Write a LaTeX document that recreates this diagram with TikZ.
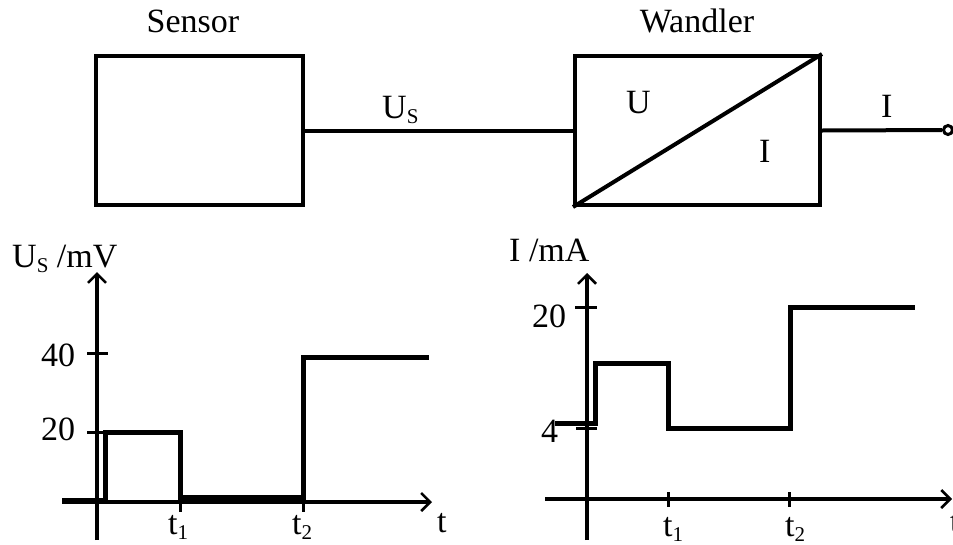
\documentclass[tikz,border=0pt]{standalone}
\usepackage{fontspec}
\setmainfont{Liberation Serif}
\usetikzlibrary{arrows.meta}
% lowered, smaller index letter (U_S, t_1, t_2)
\newcommand\lowsub[1]{\raisebox{-0.17em}{\fontsize{21}{21}\selectfont #1}}

\begin{document}
\begin{tikzpicture}[x=1pt,y=-1pt,
  lbl/.style={inner sep=0pt, anchor=base west, font=\fontsize{34}{36}\selectfont},
  block/.style={draw, line width=4pt, minimum width=#1, minimum height=149pt, inner sep=0pt},
  wire/.style={line width=4pt},
  axis/.style={line width=3.5pt, -{Straight Barb[length=9pt,width=18pt,line width=2.5pt]}},
  tick/.style={line width=3pt},
  sig/.style={line width=5pt, line join=miter}]
\useasboundingbox (0,0) rectangle (953,544);

% ---------- block diagram ----------
\node[block=207pt] (sensor)  at (199.5,130.5) {};
\node[block=245pt] (wandler) at (697.5,130.5) {};
\node[draw, circle, line width=3pt, minimum size=9pt, inner sep=0pt, fill=white] (term) at (948,130) {};

\draw[wire] (sensor.east) -- (wandler.west);
\draw[wire] (wandler.south west) -- (wandler.north east);
\draw[wire] (wandler.east) -- (term);

\node[lbl, anchor=base] (tsensor)  at (193,32) {Sensor};
\node[lbl, anchor=base] (twandler) at (697,32) {Wandler};
\node[lbl] (tus)   at (382,118) {U\lowsub{S}};
\node[lbl] (tu)    at (626,113) {U};
\node[lbl] (ti)    at (759,162) {I};
\node[lbl] (tiout) at (881,117) {I};

% ---------- sensor voltage over time ----------
\draw[axis] (97,540) -- (97,272);
\draw[axis] (62,502) -- (432,502);
\draw[tick] (87,353) -- (108,353);
\draw[tick] (87,432) -- (108,432);
\draw[tick] (180,497) -- (180,512);
\draw[tick] (303,497) -- (303,512);
\draw[sig] (62,500) -- (105,500) -- (105,432) -- (180,432) -- (180,497)
           -- (303,497) -- (303,357) -- (429,357);

\node[lbl] (lyl) at (12,267) {U\lowsub{S} /mV};
\node[lbl] (l40) at (41,366) {40};
\node[lbl] (l20) at (41,440) {20};
\node[lbl] (lt)  at (437,532) {t};
\node[lbl] (lt1) at (168,534) {t\lowsub{1}};
\node[lbl] (lt2) at (292,534) {t\lowsub{2}};

% ---------- output current over time ----------
\draw[axis] (587,540) -- (587,273);
\draw[axis] (545,499) -- (952,499);
\draw[tick] (575,307) -- (597,307);
\draw[tick] (576,428) -- (597,428);
\draw[tick] (668,492) -- (668,507);
\draw[tick] (789,492) -- (789,507);
\draw[sig] (555,423) -- (595,423) -- (595,363) -- (668,363) -- (668,428)
           -- (790,428) -- (790,307) -- (915,307);

\node[lbl] (ryl) at (509,261) {I /mA};
\node[lbl] (r20) at (532,327) {20};
\node[lbl] (r4)  at (541,442) {4};
\node[lbl] (rt)  at (950,532) {t};
\node[lbl] (rt1) at (663,536) {t\lowsub{1}};
\node[lbl] (rt2) at (785,536) {t\lowsub{2}};
\end{tikzpicture}
\end{document}
